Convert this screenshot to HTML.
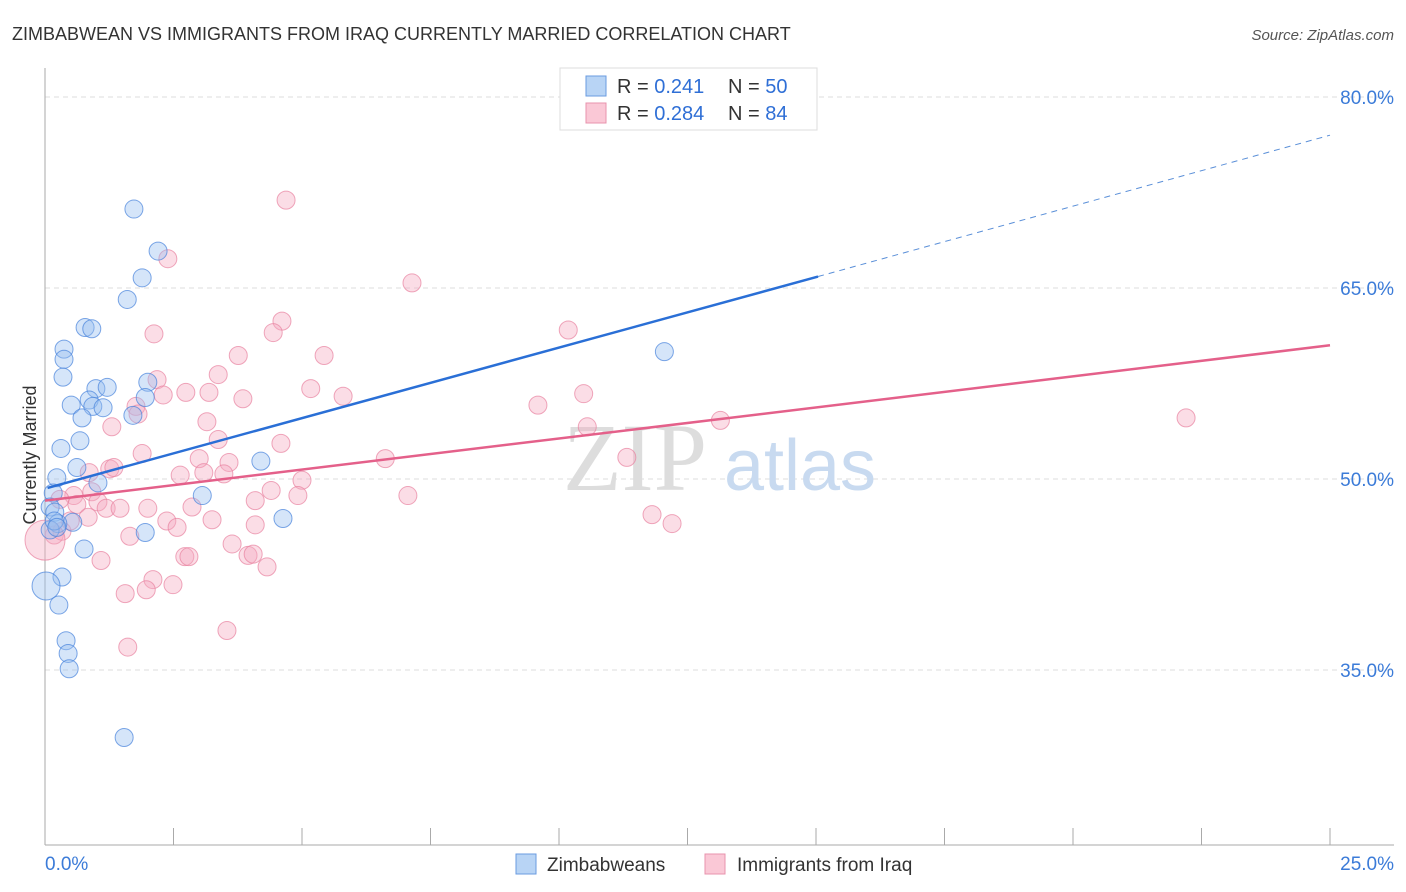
<!DOCTYPE html>
<html><head><meta charset="utf-8"><style>
body{margin:0;background:#fff;font-family:"Liberation Sans",sans-serif;}
svg{display:block}
</style></head><body>
<svg id="chart" width="1406" height="892">
<text x="12" y="40" font-size="18" fill="#333">ZIMBABWEAN VS IMMIGRANTS FROM IRAQ CURRENTLY MARRIED CORRELATION CHART</text>
<text x="1394" y="40" font-size="15" fill="#555" font-style="italic" text-anchor="end">Source: ZipAtlas.com</text>
<text x="36" y="455" font-size="18" fill="#333" text-anchor="middle" transform="rotate(-90 36 455)">Currently Married</text>
<g id="grid"></g>
<text x="635" y="490" font-size="96" fill="#ddd" font-family="Liberation Serif" text-anchor="middle">ZIP</text>
<text x="800" y="490" font-size="72" fill="#c8daf0" text-anchor="middle">atlas</text>
<g id="marks"></g>
<g id="lines"></g>
<g>
<rect x="560" y="68" width="257" height="62" fill="#fff" stroke="#ddd"/>
<rect x="586" y="76" width="20" height="20" fill="#b8d4f5" stroke="#6a9be0"/>
<rect x="586" y="103" width="20" height="20" fill="#fac8d6" stroke="#e893ad"/>
<text x="617" y="93" font-size="20" fill="#333">R = <tspan fill="#2f6fd6"> 0.241</tspan><tspan x="728" fill="#333">N = </tspan><tspan fill="#2f6fd6">50</tspan></text>
<text x="617" y="120" font-size="20" fill="#333">R = <tspan fill="#2f6fd6">0.284</tspan><tspan x="728" fill="#333">N = </tspan><tspan fill="#2f6fd6">84</tspan></text>
</g>
<g>
<rect x="516" y="854" width="20" height="20" fill="#b8d4f5" stroke="#6a9be0"/>
<text x="547" y="871" font-size="19" fill="#333">Zimbabweans</text>
<rect x="705" y="854" width="20" height="20" fill="#fac8d6" stroke="#e893ad"/>
<text x="737" y="871" font-size="19" fill="#333">Immigrants from Iraq</text>
</g>
</svg>
<script>
const yTicks=[35,50,65,80];
const xTickLabels=["0.0%","25.0%"];
const blueX=[1.73,2.20,1.89,1.60,0.78,0.91,0.37,0.37,0.35,2.00,0.99,1.21,0.51,0.86,0.93,1.13,1.95,1.71,0.72,0.68,0.31,4.20,0.62,1.03,0.23,3.06,0.16,0.10,0.19,0.54,0.25,0.10,4.63,1.95,0.76,0.33,0.02,0.27,0.41,0.45,0.47,1.54,12.05,0.18,0.23];
const blueY=[71.2,67.9,65.8,64.1,61.9,61.8,60.2,59.4,58.0,57.6,57.1,57.2,55.8,56.2,55.7,55.6,56.4,55.0,54.8,53.0,52.4,51.4,50.9,49.7,50.1,48.7,48.9,47.8,47.4,46.6,46.5,46.0,46.9,45.8,44.5,42.3,41.6,40.1,37.3,36.3,35.1,29.7,60.0,46.7,46.2];
const pinkX=[4.69,2.39,7.14,4.61,4.44,2.12,10.18,3.76,5.43,3.37,2.18,5.17,2.74,3.19,2.30,5.80,10.48,3.85,9.59,1.77,1.81,3.15,1.30,13.14,10.55,22.2,3.37,4.59,1.89,6.62,11.32,3.00,3.58,1.26,1.34,0.86,3.09,3.48,2.63,5.00,4.40,7.06,4.92,4.09,0.56,0.91,0.62,1.03,1.19,1.46,2.00,2.86,11.81,12.20,0.84,2.37,3.25,4.09,2.57,1.65,0.18,0.33,3.64,2.72,2.80,3.95,4.05,1.09,4.32,0.0,2.10,1.97,2.49,1.56,3.54,1.61,0.29,0.49];
const pinkY=[71.9,67.3,65.4,62.4,61.5,61.4,61.7,59.7,59.7,58.2,57.8,57.1,56.8,56.8,56.6,56.5,56.7,56.3,55.8,55.7,55.1,54.5,54.1,54.6,54.1,54.8,53.1,52.8,52.0,51.6,51.7,51.6,51.3,50.8,50.9,50.5,50.5,50.4,50.3,49.9,49.1,48.7,48.7,48.3,48.7,49.0,48.0,48.2,47.7,47.7,47.7,47.8,47.2,46.5,47.0,46.7,46.8,46.4,46.2,45.5,45.6,45.9,44.9,43.9,43.9,44.0,44.1,43.6,43.1,45.2,42.1,41.3,41.7,41.0,38.1,36.8,48.4,46.7];
const blueTrend=[[0.05,49.3],[15.04,65.9]];
const blueDash=[[15.04,65.9],[25,77.0]];
const pinkTrend=[[0,48.3],[25,60.5]];
const X0=45,X1=1330,Y0=97;
const xs=v=>X0+(X1-X0)*v/25;
const ys=v=>Y0+(80-v)*191/15;
const NS="http://www.w3.org/2000/svg";
const grid=document.getElementById('grid');
function mk(t,a,p){const e=document.createElementNS(NS,t);for(const k in a)e.setAttribute(k,a[k]);p.appendChild(e);return e;}
yTicks.forEach(t=>{
 const l=mk('line',{x1:45,x2:1394,y1:ys(t),y2:ys(t),stroke:'#ddd','stroke-dasharray':'5,4'},grid);
 
 
 const tx=mk('text',{x:1394,y:ys(t)+7,'font-size':19,fill:'#3b7bd8','text-anchor':'end'},grid);
 tx.textContent=t.toFixed(1)+'%';
 
 
});
const ax=mk('line',{x1:45,x2:45,y1:68,y2:845,stroke:'#aaa'},grid);


const bx=mk('line',{x1:45,x2:1394,y1:845,y2:845,stroke:'#aaa'},grid);


for(let i=0;i<=10;i++){const t=mk('line',{x1:xs(i*2.5),x2:xs(i*2.5),y1:828,y2:845,stroke:'#aaa'},grid);
 
 }
[[0,'start',45],[25,'end',1394]].forEach((d,i)=>{const t=mk('text',{x:d[2],y:870,'font-size':19,fill:'#3b7bd8','text-anchor':d[1]},grid);t.textContent=xTickLabels[i];
 
 });
const marks=document.getElementById('marks');
pinkX.forEach((v,i)=>{const c=mk('circle',{cx:xs(v),cy:ys(pinkY[i]),r:(v<0.05?20:9),fill:'rgba(246,170,192,0.4)',stroke:'rgba(232,130,160,0.7)'},marks);
 
 });
blueX.forEach((v,i)=>{const c=mk('circle',{cx:xs(v),cy:ys(blueY[i]),r:(v<0.05?14:9),fill:'rgba(150,190,240,0.4)',stroke:'rgba(70,130,220,0.7)'},marks);
 
 });
const lines=document.getElementById('lines');
function ln(p,st,w,dash,name){const l=mk('line',{x1:xs(p[0][0]),y1:ys(p[0][1]),x2:xs(p[1][0]),y2:ys(p[1][1]),stroke:st,'stroke-width':w},lines);if(dash)l.setAttribute('stroke-dasharray',dash);
 
 }
ln(blueTrend,'#2a6fd6',2.5,null,'trend-zimbabweans');
ln(blueDash,'#5a8fd8',1,'6,5','trend-zimbabweans-extension');
ln(pinkTrend,'#e4608a',2.5,null,'trend-iraq');
</script>
</body></html>
